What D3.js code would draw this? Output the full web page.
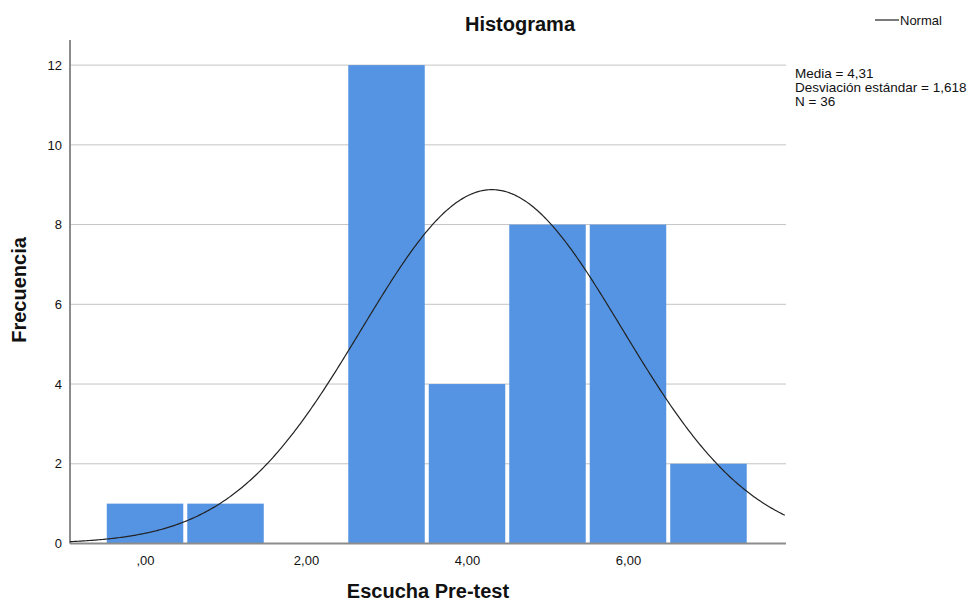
<!DOCTYPE html>
<html>
<head>
<meta charset="utf-8">
<script src="https://cdn.jsdelivr.net/npm/d3@7"></script>
<style>
  body { margin: 0; background: #fff; }
  text { font-family: "Liberation Sans", Arial, sans-serif; fill: #111; }
</style>
</head>
<body>
<svg id="chart" width="971" height="604"></svg>
<script>
// bins (center value) and counts
const binCenters = [0, 1, 2, 3, 4, 5, 6, 7];
const counts = [1, 1, 0, 12, 4, 8, 8, 2];
const yTicks = [0, 2, 4, 6, 8, 10, 12];
const xTicks = [0, 2, 4, 6];
const xTickLabels = [",00", "2,00", "4,00", "6,00"];
// stats shown in the chart (normal curve is drawn from these)
const statMean = [4.31];
const statSd = [1.618];
const statN = [36];
const statLines = ["Media = 4,31", "Desviación estándar = 1,618", "N = 36"];

const margins = { left: 70, right: 185, top: 40, bottom: 60 };
const svg = d3.select("#chart");
const width = 971 - margins.left - margins.right;
const height = 604 - margins.top - margins.bottom;

const x = d3.scaleLinear().domain([-0.932, 7.963]).range([margins.left, margins.left + width]);
const y = d3.scaleLinear().domain([0, 12.63]).range([543.5, margins.top]);

// gridlines
svg.append("g")
  .selectAll("line")
  .data(yTicks.filter((d) => d > 0))
  .join("line")
  .attr("x1", x.range()[0])
  .attr("x2", x.range()[1])
  .attr("y1", (d) => y(d))
  .attr("y2", (d) => y(d))
  .attr("stroke", "#c4c4c4")
  .attr("stroke-width", 1);

// bars
const binW = x(1) - x(0);
svg.append("g")
  .selectAll("rect")
  .data(binCenters.map((c, i) => [c, counts[i]]).filter((d) => d[1] > 0))
  .join("rect")
  .attr("x", (d) => x(d[0] - 0.5) + 2)
  .attr("width", binW - 4)
  .attr("y", (d) => y(d[1]))
  .attr("height", (d) => y(0) - y(d[1]))
  .attr("fill", "#5594e3");

// axes
svg.append("line")
  .attr("x1", x.range()[0]).attr("x2", x.range()[0])
  .attr("y1", margins.top).attr("y2", y(0))
  .attr("stroke", "#8c8c8c").attr("stroke-width", 2);
svg.append("line")
  .attr("x1", x.range()[0]).attr("x2", x.range()[1])
  .attr("y1", y(0)).attr("y2", y(0))
  .attr("stroke", "#8c8c8c").attr("stroke-width", 2);

const yAxis = d3.axisLeft(y).tickValues(yTicks).tickSize(0).tickPadding(8).tickFormat(d3.format("d"));
svg.append("g")
  .attr("transform", `translate(${x.range()[0]},0)`)
  .call(yAxis)
  .call((g) => g.select(".domain").remove())
  .selectAll("text")
  .style("font-size", "13px")
  .style("font-family", '"Liberation Sans", Arial, sans-serif')
  .attr("fill", "#222");

const xAxis = d3.axisBottom(x).tickValues(xTicks).tickSize(0).tickPadding(12).tickFormat((d, i) => xTickLabels[i]);
svg.append("g")
  .attr("transform", `translate(0,${y(0)})`)
  .call(xAxis)
  .call((g) => g.select(".domain").remove())
  .selectAll("text")
  .style("font-size", "13px")
  .style("font-family", '"Liberation Sans", Arial, sans-serif')
  .attr("fill", "#222");

// normal curve
const mu = statMean[0], sd = statSd[0], n = statN[0];
const xs = d3.range(x.domain()[0], x.domain()[1] + 0.001, 0.02);
const normal = (v) => (n * 1) / (sd * Math.sqrt(2 * Math.PI)) * Math.exp(-0.5 * ((v - mu) / sd) ** 2);
const line = d3.line().x((d) => x(d)).y((d) => y(normal(d)));
svg.append("path")
  .datum(xs)
  .attr("d", line)
  .attr("fill", "none")
  .attr("stroke", "#222")
  .attr("stroke-width", 1.2);

// title and labels
svg.append("text")
  .attr("x", 520).attr("y", 31)
  .attr("text-anchor", "middle")
  .style("font-size", "20px").style("font-weight", "bold")
  .text("Histograma");

svg.append("text")
  .attr("x", 428).attr("y", 598)
  .attr("text-anchor", "middle")
  .style("font-size", "20px").style("font-weight", "bold")
  .text("Escucha Pre-test");

svg.append("text")
  .attr("transform", "translate(26,290) rotate(-90)")
  .attr("text-anchor", "middle")
  .style("font-size", "20px").style("font-weight", "bold")
  .text("Frecuencia");

// legend
svg.append("line")
  .attr("x1", 875).attr("x2", 899)
  .attr("y1", 20).attr("y2", 20)
  .attr("stroke", "#222").attr("stroke-width", 1.2);
svg.append("text")
  .attr("x", 900).attr("y", 25)
  .style("font-size", "13px")
  .text("Normal");

svg.append("g")
  .selectAll("text")
  .data(statLines)
  .join("text")
  .attr("x", 795)
  .attr("y", (d, i) => 78 + i * 14)
  .style("font-size", "13.5px")
  .text((d) => d);
</script>
</body>
</html>
